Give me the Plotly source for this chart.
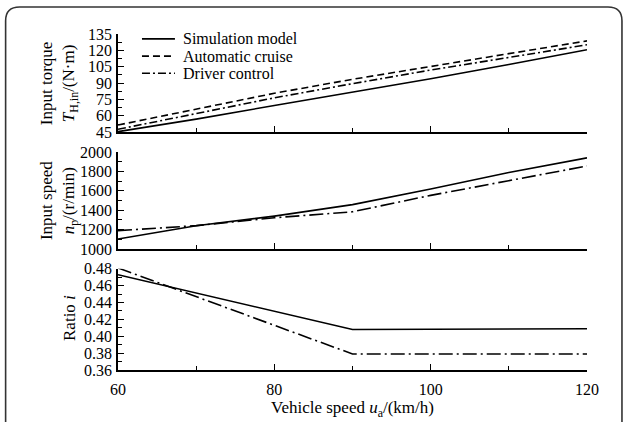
import plotly.graph_objects as go

# Vehicle speed u_a (km/h)
speed = [60, 70, 80, 90, 100, 110, 120]

# Input torque T_H,in (N·m)
torque_sim = [45.6, 57.0, 69.5, 81.5, 94.0, 107.0, 120.6]
torque_auto = [51.6, 66.0, 80.7, 93.5, 105.0, 117.0, 128.7]
torque_drv = [47.7, 62.0, 76.5, 89.5, 102.0, 113.5, 125.1]

# Input speed n_p (r/min)
nin_sim = [1105, 1240, 1340, 1458, 1619, 1788, 1939]
nin_drv = [1190, 1242, 1323, 1384, 1553, 1704, 1855]

# Transmission ratio i
ratio_speed = [60, 90, 120]
ratio_sim = [0.473, 0.408, 0.409]
ratio_drv = [0.481, 0.379, 0.379]

series_names = ["Simulation model", "Automatic cruise", "Driver control"]

FONT = "Liberation Serif"
W, H = 624, 422
ML, MR, MT, MB = 118, 36.5, 34, 46

SOLID = dict(color="black", width=1.6)
DASH = dict(color="black", width=1.6, dash="7px,4px")
DASHDOT = dict(color="black", width=1.6, dash="8px,3px,2px,3px")
LONGDASHDOT = dict(color="black", width=1.6, dash="14px,4px,2px,4px")
legend_styles = [SOLID, DASH, DASHDOT]

fig = go.Figure()

fig.add_trace(go.Scatter(x=speed, y=torque_sim, mode="lines", line=SOLID,
                         name=series_names[0], xaxis="x", yaxis="y"))
fig.add_trace(go.Scatter(x=speed, y=torque_auto, mode="lines", line=DASH,
                         name=series_names[1], xaxis="x", yaxis="y"))
fig.add_trace(go.Scatter(x=speed, y=torque_drv, mode="lines", line=DASHDOT,
                         name=series_names[2], xaxis="x", yaxis="y"))

fig.add_trace(go.Scatter(x=speed, y=nin_sim, mode="lines", line=SOLID,
                         name=series_names[0], xaxis="x2", yaxis="y2"))
fig.add_trace(go.Scatter(x=speed, y=nin_drv, mode="lines", line=LONGDASHDOT,
                         name=series_names[2], xaxis="x2", yaxis="y2"))

fig.add_trace(go.Scatter(x=ratio_speed, y=ratio_sim, mode="lines", line=SOLID,
                         name=series_names[0], xaxis="x3", yaxis="y3"))
fig.add_trace(go.Scatter(x=ratio_speed, y=ratio_drv, mode="lines", line=LONGDASHDOT,
                         name=series_names[2], xaxis="x3", yaxis="y3"))

plot_w = W - ML - MR
plot_h = H - MT - MB


def px_x(px):
    return (px - ML) / plot_w


def px_y(py):
    return 1 - (py - MT) / plot_h


def ydom(top_px, bot_px):
    return [px_y(bot_px), px_y(top_px)]


tickfont = dict(family=FONT, size=16, color="black")
minor_style = dict(ticks="inside", ticklen=4, tickwidth=1.2, tickcolor="black",
                   showgrid=False)

common_x = dict(range=[60, 120], showline=True, linecolor="black", linewidth=1.5,
                ticks="inside", ticklen=6, tickwidth=1.2, tickcolor="black",
                dtick=20, tick0=60, showgrid=False, zeroline=False,
                minor=dict(minor_style, dtick=10),
                tickfont=tickfont, mirror=False)

common_y = dict(showline=True, linecolor="black", linewidth=1.5,
                ticks="inside", ticklen=6, tickwidth=1.2, tickcolor="black",
                showgrid=False, zeroline=False, tickfont=tickfont, mirror=False,
                ticklabelstandoff=1)

fig.update_layout(
    width=W, height=H,
    margin=dict(l=ML, r=MR, t=MT, b=MB),
    paper_bgcolor="white", plot_bgcolor="white",
    font=dict(family=FONT, size=16, color="black"),
    showlegend=False,
    xaxis=dict(common_x, domain=[0, 1], anchor="y", showticklabels=False),
    yaxis=dict(common_y, domain=ydom(34, 134), anchor="x", range=[45, 135],
               dtick=15, tick0=45, minor=dict(minor_style, dtick=7.5)),
    xaxis2=dict(common_x, domain=[0, 1], anchor="y2", showticklabels=False),
    yaxis2=dict(common_y, domain=ydom(154, 253), anchor="x2", range=[1000, 2000],
                dtick=200, tick0=1000, minor=dict(minor_style, dtick=100)),
    xaxis3=dict(common_x, domain=[0, 1], anchor="y3", showticklabels=True,
                ticklabelstandoff=4,
                title=dict(text="Vehicle speed <i>u</i><sub>a</sub>/(km/h)",
                           font=dict(family=FONT, size=17, color="black"),
                           standoff=0)),
    yaxis3=dict(common_y, domain=ydom(273, 376), anchor="x3", range=[0.36, 0.48],
                dtick=0.02, tick0=0.36, tickformat=".2f",
                minor=dict(minor_style, dtick=0.01)),
)

# Y-axis titles (two stacked lines, rotated)
ytitles = [
    ("Input torque<br><i>T</i><sub>H,in</sub>/(N·m)", 59, 84),
    ("Input speed<br><i>n</i><sub>p</sub>/(r/min)", 59, 204),
    ("Ratio <i>i</i>", 70, 323),
]
for text, cx, cy in ytitles:
    fig.add_annotation(text=text, xref="paper", yref="paper",
                       x=px_x(cx), y=px_y(cy), xanchor="center", yanchor="middle",
                       textangle=-90, showarrow=False,
                       font=dict(family=FONT, size=17, color="black"))

# Compact legend in the torque panel: line sample + label per series
legend_rows = [39, 56.5, 74]
for name, style, row in zip(series_names, legend_styles, legend_rows):
    fig.add_shape(type="line", xref="paper", yref="paper",
                  x0=px_x(142), x1=px_x(175), y0=px_y(row), y1=px_y(row),
                  line=style)
    fig.add_annotation(text=name, xref="paper", yref="paper",
                       x=px_x(181), y=px_y(row), xanchor="left", yanchor="middle",
                       showarrow=False,
                       font=dict(family=FONT, size=16, color="black"))

# Rounded outer frame (open at the bottom edge)
L, R, T, B = px_x(5.5), px_x(622.5), px_y(6.5), px_y(440)
rx, ry = 14 / plot_w, 14 / plot_h
frame = (f"M {L},{B} L {L},{T - ry} Q {L},{T} {L + rx},{T} "
         f"L {R - rx},{T} Q {R},{T} {R},{T - ry} L {R},{B}")
fig.add_shape(type="path", path=frame, xref="paper", yref="paper",
              line=dict(color="#333333", width=1.6), layer="above")

fig.write_html("out.html")
